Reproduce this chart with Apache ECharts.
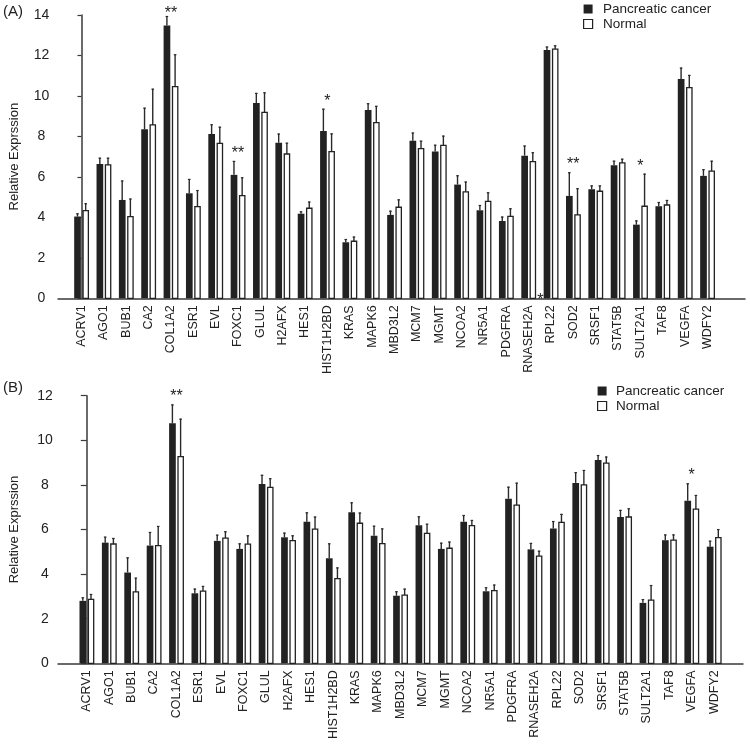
<!DOCTYPE html>
<html><head><meta charset="utf-8">
<script src="https://cdn.jsdelivr.net/npm/echarts@6/dist/echarts.min.js"></script>
<style>html,body{margin:0;padding:0;background:#fff}#c{width:750px;height:746px}</style>
</head><body><div id="c"></div>
<script>
const categories = ['ACRV1','AGO1','BUB1','CA2','COL1A2','ESR1','EVL','FOXC1','GLUL','H2AFX','HES1','HIST1H2BD','KRAS','MAPK6','MBD3L2','MCM7','MGMT','NCOA2','NR5A1','PDGFRA','RNASEH2A','RPL22','SOD2','SRSF1','STAT5B','SULT2A1','TAF8','VEGFA','WDFY2'];
const seriesNames = ['Pancreatic cancer','Normal'];
const yTicksA = [0,2,4,6,8,10,12,14];
const yTicksB = [0,2,4,6,8,10,12];

// Panel A
const cancerA = [4.04,6.64,4.86,8.35,13.48,5.19,8.12,6.10,9.65,7.69,4.18,8.27,2.77,9.31,4.12,7.79,7.25,5.62,4.35,3.82,7.05,12.27,5.06,5.39,6.57,3.64,4.55,10.84,6.05];
const cancerSdA = [0.16,0.31,0.96,1.07,0.47,0.71,0.48,0.69,0.50,0.45,0.12,1.10,0.16,0.33,0.21,0.40,0.34,0.46,0.26,0.22,0.50,0.17,1.17,0.19,0.23,0.21,0.21,0.56,0.33];
const normalA = [4.33,6.59,4.04,8.57,10.46,4.53,7.66,5.07,9.19,7.13,4.45,7.25,2.82,8.68,4.50,7.40,7.56,5.26,4.79,4.05,6.75,12.31,4.12,5.29,6.69,4.55,4.61,10.41,6.28];
const normalSdA = [0.37,0.36,0.89,1.79,1.60,0.82,0.82,0.91,0.99,0.56,0.33,0.90,0.23,0.83,0.39,0.39,0.48,0.51,0.45,0.40,0.47,0.19,1.32,0.29,0.21,1.61,0.25,0.63,0.52];
const starsA = ['','','','','**','','','**','','','','*','','','','','','','','','','','**','','','*','','',''];
const axisStarsA = ['','','','','','','','','','','','','','','','','','','','','','**','','','','','','',''];

// Panel B
const cancerB = [2.80,5.41,4.07,5.28,10.76,3.14,5.49,5.13,8.04,5.65,6.35,4.71,6.77,5.72,3.03,6.19,5.13,6.35,3.23,7.38,5.11,6.05,8.09,9.12,6.56,2.71,5.52,7.29,5.23];
const cancerSdB = [0.16,0.27,0.68,0.61,0.85,0.21,0.28,0.25,0.41,0.21,0.42,0.67,0.45,0.45,0.20,0.40,0.28,0.30,0.18,0.54,0.29,0.33,0.48,0.22,0.32,0.17,0.26,0.78,0.27];
const normalB = [2.87,5.35,3.20,5.28,9.27,3.24,5.61,5.34,7.89,5.50,6.02,3.80,6.28,5.37,3.06,5.83,5.16,6.17,3.26,7.09,4.81,6.32,8.00,8.98,6.56,2.83,5.52,6.91,5.64];
const normalSdB = [0.24,0.27,0.64,0.88,1.70,0.23,0.31,0.40,0.41,0.24,0.56,0.50,0.48,0.68,0.29,0.43,0.30,0.26,0.27,1.01,0.24,0.38,0.67,0.29,0.39,0.68,0.26,0.64,0.38];
const starsB = ['','','','','**','','','','','','','','','','','','','','','','','','','','','','','*',''];
const axisStarsB = categories.map(() => '');

const FONT = 'Liberation Sans, Arial, Helvetica, sans-serif';
const INK = '#222';
const AXIS = '#3a3a3a';

const chart = echarts.init(document.getElementById('c'), null, {renderer: 'canvas'});

function barSeries(name, vals, sds, isCancer, gi) {
  return {
    type: 'custom', name: name, xAxisIndex: gi, yAxisIndex: gi,
    itemStyle: isCancer ? {color: INK} : {color: '#fff', borderColor: INK, borderWidth: 1.3},
    data: vals.map((v, i) => [i, v, v + sds[i]]),
    encode: {x: 0, y: [1, 2]},
    renderItem: function (params, api) {
      const i = api.value(0), v = api.value(1), t = api.value(2);
      const top = api.coord([i, v]);
      const base = api.coord([i, 0]);
      const et = api.coord([i, t]);
      const c = top[0];
      let rect, ex;
      if (isCancer) {
        rect = {type: 'rect', shape: {x: c - 7.3, y: top[1], width: 6.7, height: base[1] - top[1]}, style: {fill: INK}};
        ex = c - 4;
      } else {
        rect = {type: 'rect', shape: {x: c + 1.6, y: top[1], width: 5.3, height: base[1] - top[1]}, style: {fill: '#fff', stroke: INK, lineWidth: 1.3}};
        ex = c + 4.2;
      }
      return {type: 'group', children: [
        {type: 'line', shape: {x1: ex, y1: top[1], x2: ex, y2: et[1]}, style: {stroke: '#2a2a2a', lineWidth: 1.4}},
        {type: 'line', shape: {x1: ex - 1.3, y1: et[1] + 0.5, x2: ex + 1.3, y2: et[1] + 0.5}, style: {stroke: '#2a2a2a', lineWidth: 1.2}},
        rect
      ]};
    }
  };
}

function starSeries(c1, s1, c2, s2, stars, axisStars, gi, gridTop) {
  return {
    type: 'custom', name: 'sig' + gi, xAxisIndex: gi, yAxisIndex: gi, silent: true,
    data: categories.map((_, i) => [i, Math.max(c1[i] + s1[i], c2[i] + s2[i])]),
    encode: {x: 0, y: 1},
    renderItem: function (params, api) {
      const i = params.dataIndex;
      const txt = stars[i], at = axisStars[i];
      const p = api.coord([i, api.value(1)]);
      const p0 = api.coord([i, 0]);
      const children = [];
      if (txt) {
        const ty = Math.max(p[1] - 11, gridTop - 4.5);
        children.push({type: 'text', style: {text: txt, x: p[0], y: ty + 3.5, textAlign: 'center', textVerticalAlign: 'middle', font: '16px ' + FONT, fill: INK}});
      }
      if (at) {
        children.push({type: 'text', style: {text: at, x: p0[0] - 7.5, y: p0[1] - 1.6 + 3.5, textAlign: 'center', textVerticalAlign: 'middle', font: '16px ' + FONT, fill: INK}});
      }
      return {type: 'group', children: children};
    }
  };
}

function xAxis(gi, min, max) {
  return {
    type: 'value', gridIndex: gi, min: min, max: max,
    axisLine: {show: true, onZero: false, lineStyle: {color: AXIS, width: 1.5}},
    axisTick: {show: false},
    splitLine: {show: false},
    axisLabel: {
      customValues: categories.map((_, i) => i),
      formatter: v => categories[Math.round(v)] || '',
      rotate: 90, fontSize: 12.5, fontFamily: FONT, color: INK, margin: 7
    }
  };
}

function yAxis(gi, ticks, labelMargin, tickLen) {
  return {
    type: 'value', gridIndex: gi, min: ticks[0], max: ticks[ticks.length - 1], interval: ticks[1] - ticks[0],
    name: 'Relative Exprssion', nameLocation: 'middle', nameGap: 37,
    nameTextStyle: {fontSize: 13, fontFamily: FONT, color: INK},
    axisLine: {show: true, lineStyle: {color: AXIS, width: 1.5}},
    axisTick: {show: true, length: tickLen, lineStyle: {color: AXIS, width: 1.2}},
    splitLine: {show: false},
    axisLabel: {fontSize: 14, fontFamily: FONT, color: INK, margin: labelMargin, align: 'center'}
  };
}

const SQUARE = 'path://M0,0L9,0L9,9L0,9Z';
const legendBase = (left, top, w) => ({
  orient: 'vertical', left: left, top: top, padding: 0, itemWidth: w, itemHeight: 9, itemGap: 1,
  icon: SQUARE, symbolKeepAspect: true,
  textStyle: {fontSize: 13.5, fontFamily: FONT, color: INK},
  selectedMode: false,
  data: [
    {name: seriesNames[0], icon: SQUARE, itemStyle: {color: INK}},
    {name: seriesNames[1], icon: SQUARE, itemStyle: {color: '#fff', borderColor: INK, borderWidth: 1.2}}
  ]
});

const option = {
  animation: false,
  backgroundColor: '#fff',
  textStyle: {fontFamily: FONT},
  title: [
    {text: '(A)', left: 3, top: 4, padding: 0, textStyle: {fontSize: 15, fontWeight: 'normal', fontFamily: FONT, color: INK}},
    {text: '(B)', left: 3, top: 380, padding: 0, textStyle: {fontSize: 15, fontWeight: 'normal', fontFamily: FONT, color: INK}}
  ],
  legend: [legendBase(583, 2, 20), legendBase(597, 384, 18)],
  grid: [
    {left: 53, right: 5, top: 15, bottom: 447.7},
    {left: 53, right: 7, top: 395.7, bottom: 82.7}
  ],
  xAxis: [xAxis(0, -1.05, 29.68), xAxis(1, -1.285, 29.29)],
  yAxis: [yAxis(0, yTicksA, 16.5, 4), yAxis(1, yTicksB, 13, 6)],
  series: [
    barSeries(seriesNames[0], cancerA, cancerSdA, true, 0),
    barSeries(seriesNames[1], normalA, normalSdA, false, 0),
    starSeries(cancerA, cancerSdA, normalA, normalSdA, starsA, axisStarsA, 0, 15),
    barSeries(seriesNames[0], cancerB, cancerSdB, true, 1),
    barSeries(seriesNames[1], normalB, normalSdB, false, 1),
    starSeries(cancerB, cancerSdB, normalB, normalSdB, starsB, axisStarsB, 1, 395.7)
  ]
};
chart.setOption(option);
</script></body></html>
